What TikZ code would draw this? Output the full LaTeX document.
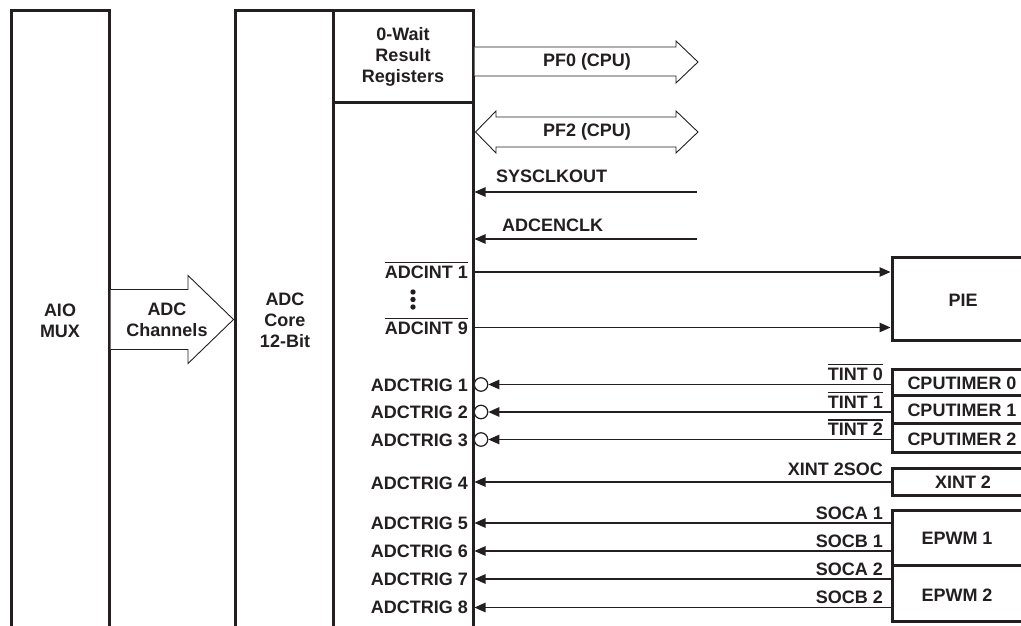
\documentclass[tikz,border=0pt]{standalone}
\usepackage{fontspec}
\setmainfont{Liberation Sans}
\usetikzlibrary{arrows.meta}
\definecolor{ink}{HTML}{231F20}
\newcommand{\ovl}[1]{\vbox{\hrule height 1.3pt\kern 2.4pt\hbox{#1}}}
\begin{document}
\begin{tikzpicture}[x=1pt,y=-1pt,
  box/.style={draw=ink, line width=3pt, line join=miter},
  txt/.style={font=\fontsize{18}{21}\selectfont\bfseries, text=ink, inner sep=0pt, align=center},
  ltxt/.style={font=\fontsize{18}{21}\selectfont\bfseries, text=ink, inner sep=0pt},
  sig/.style={draw=ink, line width=1.2pt},
  arr/.style={sig, -{Triangle[length=11pt,width=9.5pt]}},
  fat/.style={draw=ink, line width=0.9pt, fill=white, line join=miter},
  bubble/.style={draw=ink, line width=1.2pt, fill=white, circle, minimum size=13.5pt, inner sep=0pt}
]
\useasboundingbox (0,0) rectangle (1021,626);
\clip (0,0) rectangle (1021,626);

% columns
\draw[box] (11.5,640) -- (11.5,11) -- (109,11) -- (109,640);
\draw[box] (235,640) -- (235,11) -- (473,11) -- (473,640);
\draw[box] (333,11) -- (333,640);
\draw[box] (333,103) -- (473,103);

\node[txt] (aio) at (60,320.5) {AIO\\MUX};
\node[txt] (core) at (285,320.5) {ADC\\Core\\12-Bit};
\node[txt] (res) at (403,57) {0-Wait\\Result\\Registers};

% ADC channels arrow
\draw[fat] (110.5,289.5) -- (188,289.5) -- (188,275.5) -- (233.5,319.5) -- (188,363.5) -- (188,349.5) -- (110.5,349.5);
\node[txt] (chan) at (167,320) {ADC\\Channels};

% PF0 / PF2
\draw[fat] (474.5,47) -- (676,47) -- (676,41) -- (698,62) -- (676,83) -- (676,76) -- (474.5,76);
\node[txt] (pf0) at (587,62) {PF0 (CPU)};
\draw[fat] (496,117) -- (676,117) -- (676,111) -- (698,132) -- (676,153) -- (676,147) -- (496,147) -- (496,153) -- (475.5,132) -- (496,111) -- cycle;
\node[txt] (pf2) at (587,132) {PF2 (CPU)};

% column edge reference
\coordinate (col) at (474.5,0);
\coordinate (boxW) at (890.5,0);

% clocks
\coordinate (sysE) at (697,192);
\draw[arr] (sysE) -- (sysE -| col);
\node[ltxt, anchor=base west] (sysL) at (496,182.5) {SYSCLKOUT};
\coordinate (encE) at (697,239);
\draw[arr] (encE) -- (encE -| col);
\node[ltxt, anchor=base west] (encL) at (502,231.5) {ADCENCLK};

% PIE
\draw[box] (892,257) rectangle (1040,340);
\node[txt] (pie) at (963,300) {PIE};
\coordinate (int1) at (474.5,272);
\draw[arr] (int1) -- (int1 -| boxW);
\coordinate (int9) at (474.5,327.5);
\draw[arr] (int9) -- (int9 -| boxW);
\node[ltxt, anchor=base east] (int1L) at (468,278) {\ovl{ADCINT 1}};
\node[ltxt, anchor=base east] (int9L) at (468,334) {\ovl{ADCINT 9}};
\fill[ink] (413,292) circle (2.7pt) (413,299.5) circle (2.7pt) (413,307) circle (2.7pt);

% CPU timers
\draw[box] (892,369) rectangle (1040,452);
\draw[box] (892,395) -- (1040,395);
\draw[box] (892,423) -- (1040,423);
\node[txt] (ct0) at (962,383) {CPUTIMER 0};
\node[txt] (ct1) at (962,410) {CPUTIMER 1};
\node[txt] (ct2) at (962,439) {CPUTIMER 2};

% XINT
\draw[box] (892,468) rectangle (1040,495);
\node[txt] (xint) at (963,482) {XINT 2};

% EPWM
\draw[box] (892,510) rectangle (1040,621);
\draw[box] (892,565) -- (1040,565);
\node[txt] (ep1) at (957,538) {EPWM 1};
\node[txt] (ep2) at (957,595) {EPWM 2};

% bubbles
\node[bubble] (b1) at (481,384.5) {};
\node[bubble] (b2) at (481,412) {};
\node[bubble] (b3) at (481,439.5) {};

% trigger lines
\coordinate (t0) at (890.5,384.5);
\coordinate (t1) at (890.5,412);
\coordinate (t2) at (890.5,439.5);
\draw[arr] (t0) -- (b1.east);
\draw[arr] (t1) -- (b2.east);
\draw[arr] (t2) -- (b3.east);
\coordinate (x2) at (890.5,482);
\draw[arr] (x2) -- (x2 -| col);
\coordinate (sa1) at (890.5,523);
\coordinate (sb1) at (890.5,551);
\coordinate (sa2) at (890.5,579);
\coordinate (sb2) at (890.5,607.5);
\draw[arr] (sa1) -- (sa1 -| col);
\draw[arr] (sb1) -- (sb1 -| col);
\draw[arr] (sa2) -- (sa2 -| col);
\draw[arr] (sb2) -- (sb2 -| col);

% right labels
\node[ltxt, anchor=base east] (lt0) at (883,380) {\ovl{TINT 0}};
\node[ltxt, anchor=base east] (lt1) at (883,408) {\ovl{TINT 1}};
\node[ltxt, anchor=base east] (lt2) at (883,435.5) {\ovl{TINT 2}};
\node[ltxt, anchor=base east] (lx2) at (883,475) {XINT 2SOC};
\node[ltxt, anchor=base east] (lsa1) at (883,519) {SOCA 1};
\node[ltxt, anchor=base east] (lsb1) at (883,547) {SOCB 1};
\node[ltxt, anchor=base east] (lsa2) at (883,575) {SOCA 2};
\node[ltxt, anchor=base east] (lsb2) at (883,603.5) {SOCB 2};

% left trigger labels
\node[ltxt, anchor=base east] (a1) at (468,391) {ADCTRIG 1};
\node[ltxt, anchor=base east] (a2) at (468,418.5) {ADCTRIG 2};
\node[ltxt, anchor=base east] (a3) at (468,446) {ADCTRIG 3};
\node[ltxt, anchor=base east] (a4) at (468,489.5) {ADCTRIG 4};
\node[ltxt, anchor=base east] (a5) at (468,529.5) {ADCTRIG 5};
\node[ltxt, anchor=base east] (a6) at (468,557.5) {ADCTRIG 6};
\node[ltxt, anchor=base east] (a7) at (468,585.5) {ADCTRIG 7};
\node[ltxt, anchor=base east] (a8) at (468,613.5) {ADCTRIG 8};
\end{tikzpicture}
\end{document}
